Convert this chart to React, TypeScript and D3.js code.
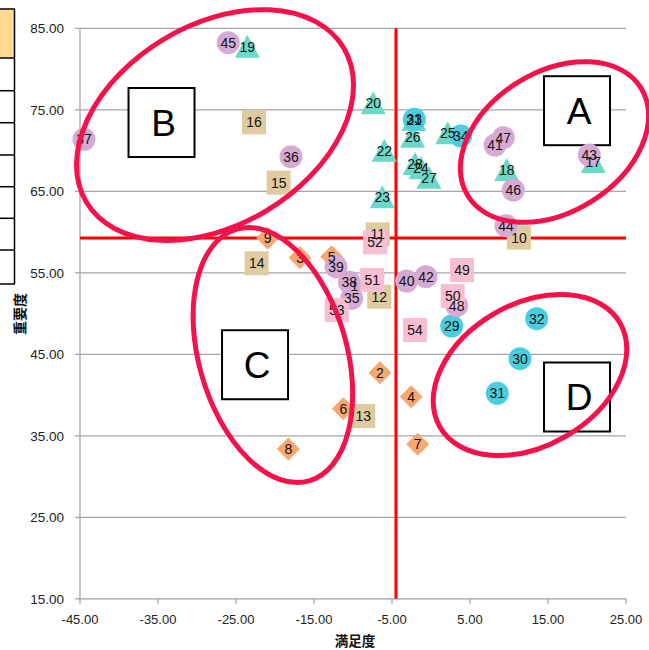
import React from 'react';
import * as d3 from 'd3';

// Item numbers 1..54 with their satisfaction (x) and importance (y) scores
const itemIds = d3.range(1, 55);
const satisfaction = [
  -9.83, -6.54, -16.79, -2.53, -12.73, -11.24, -1.71, -18.29, -20.94,
  11.28, -6.83, -6.63, -8.68, -22.35, -19.53, -22.69,
  20.81, 9.71, -23.55, -7.4, -2.18, -5.99, -6.24, -1.28, 2.14, -2.35, -0.26, -2.05,
  2.65, 11.41, 8.5, 13.55, -2.14, 3.81,
  -10.17, -17.95, -44.49, -10.47, -12.18, -3.12, 8.21, -0.64, 20.29, 9.62, -25.99, 10.55, 9.27, 3.29,
  3.97, 2.78, -7.53, -7.18, -12.09, -2.05,
];
const importance = [
  53.42, 42.74, 56.85, 39.8, 56.98, 38.33, 33.96, 33.38, 59.27,
  59.31, 59.72, 52.07, 37.43, 56.17, 66.06, 73.47,
  68.6, 67.61, 82.74, 75.8, 73.75, 69.98, 64.26, 67.82, 72.12, 71.7, 66.67, 68.35,
  48.47, 44.46, 40.21, 49.37, 73.83, 71.79,
  51.87, 69.25, 71.38, 53.83, 55.75, 53.99, 70.68, 54.52, 69.45, 60.78, 83.23, 65.16, 71.58, 50.96,
  55.34, 52.15, 54.12, 58.74, 50.44, 47.98,
];
// First item number of each marker group
const groupStarts = [1, 10, 17, 29, 35, 49];
const groupShapes = ['diamond', 'square', 'triangle', 'circle', 'circle', 'square'];
const groupColors = ['#F7A770', '#DECB9F', '#6AD9C7', '#48CEDF', '#D5AAD5', '#F9BED1'];

// Reference lines (averages)
const meanSatisfaction = -4.49;
const meanImportance = 59.27;

const xTicks = [-45, -35, -25, -15, -5, 5, 15, 25];
const yTicks = [15, 25, 35, 45, 55, 65, 75, 85];

// Quadrant callouts: label, ellipse centre (data units), radii (px), rotation, box centre (data units)
const quadLabels = ['A', 'B', 'C', 'D'];
const quadEllipseCx = [15.83, -27.69, -20.27, 12.69];
const quadEllipseCy = [71.05, 73.13, 44.91, 42.46];
const quadRx = [102, 150, 131, 104];
const quadRy = [70, 100, 74, 71];
const quadAngle = [-32, -31, 74, -30];
const quadBoxX = [18.72, -34.55, -22.56, 18.72];
const quadBoxY = [74.89, 73.44, 43.72, 39.76];

const W = 649;
const H = 650;

const x = d3.scaleLinear().domain([-45, 25]).range([80, 626]);
const y = d3.scaleLinear().domain([15, 85]).range([598.8, 28.3]);

const groupOf = (id: number) => {
  let g = 0;
  groupStarts.forEach((s, i) => {
    if (id >= s) g = i;
  });
  return g;
};

const markerPath = (shape: string) => {
  if (shape === 'diamond') return 'M0,-11.5L11.5,0L0,11.5L-11.5,0Z';
  if (shape === 'square') return 'M-12,-12H12V12H-12Z';
  if (shape === 'triangle') return 'M0,-12L12.5,11L-12.5,11Z';
  return d3.symbol(d3.symbolCircle, Math.PI * 11.5 * 11.5)() as string;
};

const FONT = "'Liberation Sans', Arial, sans-serif";
const CJK = "'Noto Sans CJK JP', sans-serif";

export default function App() {
  const points = itemIds.map((id, i) => ({
    id,
    sx: satisfaction[i],
    iy: importance[i],
    g: groupOf(id),
  }));
  const tableRows = [9, 58, 90.7, 122.7, 155, 186.7, 218.3, 250, 284];

  return (
    <svg
      width={W}
      height={H}
      viewBox={`0 0 ${W} ${H}`}
      style={{ position: 'absolute', left: 0, top: 0, background: '#fff' }}
    >
      {/* spreadsheet cells at the left edge */}
      <rect x={-2} y={tableRows[0]} width={16} height={tableRows[1] - tableRows[0]} fill="#FFD98F" />
      {tableRows.map((r, i) => (
        <line key={i} x1={-2} x2={15} y1={r} y2={r} stroke="#000" strokeWidth={1.5} />
      ))}
      <line x1={14.5} x2={14.5} y1={tableRows[0]} y2={tableRows[tableRows.length - 1]} stroke="#000" strokeWidth={1.5} />

      {/* horizontal gridlines */}
      {yTicks.slice(1).map((t) => (
        <line key={t} x1={x(-45)} x2={x(25)} y1={y(t)} y2={y(t)} stroke="#A6A6A6" strokeWidth={1.2} />
      ))}
      {/* axes */}
      <line x1={x(-45)} x2={x(-45)} y1={y(15)} y2={y(85)} stroke="#A0A0A0" strokeWidth={1.2} />
      <line x1={x(-45)} x2={x(25)} y1={y(15)} y2={y(15)} stroke="#A0A0A0" strokeWidth={1.2} />
      {yTicks.map((t) => (
        <g key={t}>
          <line x1={x(-45) - 5} x2={x(-45)} y1={y(t)} y2={y(t)} stroke="#A0A0A0" strokeWidth={1.2} />
          <text x={x(-45) - 16} y={y(t)} dy="0.35em" textAnchor="end" fontFamily={FONT} fontSize={13.5} fill="#222">
            {t.toFixed(2)}
          </text>
        </g>
      ))}
      {xTicks.map((t) => (
        <g key={t}>
          <line x1={x(t)} x2={x(t)} y1={y(15)} y2={y(15) + 5} stroke="#A0A0A0" strokeWidth={1.2} />
          <text x={x(t)} y={y(15) + 21} dy="0.35em" textAnchor="middle" fontFamily={FONT} fontSize={13} fill="#222">
            {t.toFixed(2)}
          </text>
        </g>
      ))}
      <text x={355} y={641} dy="0.35em" textAnchor="middle" fontFamily={CJK} fontWeight={700} fontSize={13.5} fill="#111">
        満足度
      </text>
      <text
        transform={`translate(20,314) rotate(-90)`}
        dy="0.35em"
        textAnchor="middle"
        fontFamily={CJK}
        fontWeight={700}
        fontSize={14}
        fill="#111"
      >
        重要度
      </text>

      {/* average lines */}
      <line x1={x(-45)} x2={x(25)} y1={y(meanImportance)} y2={y(meanImportance)} stroke="#FF0000" strokeWidth={3} />
      <line x1={x(meanSatisfaction)} x2={x(meanSatisfaction)} y1={y(85)} y2={y(15)} stroke="#FF0000" strokeWidth={3} />

      {/* quadrant boxes */}
      {quadLabels.map((q, i) => (
        <g key={q}>
          <rect
            x={x(quadBoxX[i]) - 33}
            y={y(quadBoxY[i]) - 34.5}
            width={66}
            height={69}
            fill="#fff"
            stroke="#000"
            strokeWidth={2}
          />
          <text
            x={x(quadBoxX[i]) + 2}
            y={y(quadBoxY[i])}
            dy="0.36em"
            textAnchor="middle"
            fontFamily={FONT}
            fontSize={37}
            fill="#000"
          >
            {q}
          </text>
        </g>
      ))}

      {/* markers */}
      {points.map((p) => (
        <path
          key={p.id}
          d={markerPath(groupShapes[p.g])}
          transform={`translate(${x(p.sx)},${y(p.iy)})`}
          fill={groupColors[p.g]}
        />
      ))}
      {/* item number labels */}
      {points.map((p) => (
        <text
          key={p.id}
          x={x(p.sx)}
          y={y(p.iy)}
          dy="0.36em"
          textAnchor="middle"
          fontFamily={FONT}
          fontSize={14}
          fill="#111"
        >
          {p.id}
        </text>
      ))}

      {/* quadrant ellipses */}
      {quadLabels.map((q, i) => (
        <ellipse
          key={q}
          cx={0}
          cy={0}
          rx={quadRx[i]}
          ry={quadRy[i]}
          transform={`translate(${x(quadEllipseCx[i])},${y(quadEllipseCy[i])}) rotate(${quadAngle[i]})`}
          fill="none"
          stroke="#F5114A"
          strokeWidth={5}
        />
      ))}
    </svg>
  );
}
